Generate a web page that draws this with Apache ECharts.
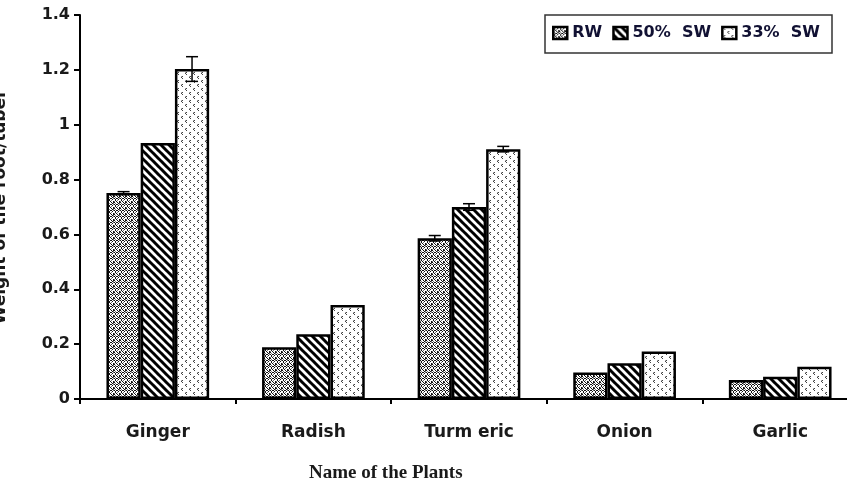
<!DOCTYPE html>
<html>
<head>
<meta charset="utf-8">
<script src="https://cdn.jsdelivr.net/npm/echarts@6/dist/echarts.min.js"></script>
<style>
html,body{margin:0;padding:0;background:#fff;}
#chart{width:847px;height:487px;}
</style>
</head>
<body>
<div id="chart"></div>
<script>
// ---- data ----
const categories = ['Ginger', 'Radish', 'Turm eric', 'Onion', 'Garlic'];
const seriesNames = ['RW', '50%  SW', '33%  SW'];
const rwValues   = [0.751, 0.189, 0.586, 0.097, 0.069];
const sw50Values = [0.933, 0.236, 0.700, 0.130, 0.081];
const sw33Values = [1.203, 0.343, 0.911, 0.173, 0.118];
const rwErrors   = [0.005, 0, 0.010, 0, 0];
const sw50Errors = [0, 0, 0.012, 0, 0];
const sw33Errors = [0.045, 0, 0.010, 0, 0];
const yTicks = [0, 0.2, 0.4, 0.6, 0.8, 1, 1.2, 1.4];

// ---- patterns ----
function tile(w, h, draw) {
  const c = document.createElement('canvas');
  c.width = w; c.height = h;
  const ctx = c.getContext('2d');
  ctx.fillStyle = '#fff';
  ctx.fillRect(0, 0, w, h);
  draw(ctx);
  return { image: c, repeat: 'repeat' };
}
const densePattern = tile(6, 6, function (ctx) {
  ctx.fillStyle = '#111';
  const px = [[0,0],[1,1],[3,0],[4,1],[2,3],[3,4],[5,3],[0,4],[1,2],[4,5],[2,0],[5,4]];
  px.forEach(p => ctx.fillRect(p[0], p[1], 1, 1));
  ctx.fillStyle = '#777';
  [[5,0],[0,3],[3,2],[1,5],[5,5]].forEach(p => ctx.fillRect(p[0], p[1], 1, 1));
});
const stripePattern = tile(8, 8, function (ctx) {
  ctx.strokeStyle = '#000';
  ctx.lineWidth = 3;
  [-8, 0, 8].forEach(function (o) {
    ctx.beginPath();
    ctx.moveTo(o - 1, -1);
    ctx.lineTo(o + 9, 9);
    ctx.stroke();
  });
});
const sparsePattern = tile(8, 8, function (ctx) {
  ctx.fillStyle = '#444';
  [[2,0],[1,1],[2,2]].forEach(p => ctx.fillRect(p[0], p[1], 1, 1));
  [[6,4],[5,5],[6,6]].forEach(p => ctx.fillRect(p[0], p[1], 1, 1));
  ctx.fillStyle = '#aaa';
  [[1,0],[5,4]].forEach(p => ctx.fillRect(p[0], p[1], 1, 1));
});

const BAR_FRAC = 0.22;
function barSeries(name, values, pattern) {
  return {
    name: name,
    type: 'bar',
    data: values,
    barWidth: (BAR_FRAC * 100) + '%',
    barGap: '0%',
    itemStyle: { color: pattern, borderColor: '#000', borderWidth: 2.5 },
    z: 2
  };
}

const errData = [];
[rwErrors, sw50Errors, sw33Errors].forEach(function (errs, s) {
  const vals = [rwValues, sw50Values, sw33Values][s];
  errs.forEach(function (e, i) {
    if (e > 0) errData.push([i, vals[i], e, s]);
  });
});

const chart = echarts.init(document.getElementById('chart'), null, { renderer: 'canvas' });
chart.setOption({
  animation: false,
  backgroundColor: '#fff',
  title: {
    text: 'Name of the Plants',
    left: 309,
    top: 464,
    padding: 0,
    textStyle: { fontFamily: 'Liberation Serif', fontWeight: 'bold', fontSize: 19, color: '#1a1a1a' }
  },
  graphic: [{
    type: 'rect',
    shape: { x: 545, y: 15, width: 287, height: 38 },
    style: { fill: '#fff', stroke: '#333', lineWidth: 1.5 },
    z: 0
  }],
  legend: {
    data: seriesNames,
    left: 552,
    top: 25,
    padding: 0,
    itemWidth: 14,
    itemHeight: 12,
    itemGap: 10,
    icon: 'rect',
    itemStyle: { borderColor: '#000', borderWidth: 2.5 },
    textStyle: { fontFamily: 'DejaVu Sans', fontWeight: 'bold', fontSize: 16, color: '#111133' },
    z: 5
  },
  grid: { left: 80, right: -11, top: 15, bottom: 88, containLabel: false, outerBoundsMode: 'none' },
  xAxis: {
    type: 'category',
    data: categories,
    axisLine: { lineStyle: { color: '#000', width: 2 } },
    axisTick: { show: true, length: 5, lineStyle: { color: '#000', width: 2 } },
    axisLabel: { margin: 25, fontFamily: 'DejaVu Sans', fontWeight: 'bold', fontSize: 17, color: '#1a1a1a' }
  },
  yAxis: {
    type: 'value',
    min: yTicks[0],
    max: yTicks[yTicks.length - 1],
    interval: 0.2,
    name: 'Weight of the root/tuber',
    nameLocation: 'middle',
    nameGap: 71,
    nameTextStyle: { fontFamily: 'DejaVu Sans', fontWeight: 'bold', fontSize: 17, color: '#1a1a1a' },
    splitLine: { show: false },
    axisLine: { show: true, lineStyle: { color: '#000', width: 2 } },
    axisTick: { show: true, length: 6, lineStyle: { color: '#000', width: 2 } },
    axisLabel: { margin: 10, fontFamily: 'DejaVu Sans', fontWeight: 'bold', fontSize: 16, color: '#1a1a1a' }
  },
  series: [
    barSeries(seriesNames[0], rwValues, densePattern),
    barSeries(seriesNames[1], sw50Values, stripePattern),
    barSeries(seriesNames[2], sw33Values, sparsePattern),
    {
      name: 'errors',
      type: 'custom',
      data: errData,
      z: 10,
      renderItem: function (params, api) {
        const cat = api.value(0), v = api.value(1), e = api.value(2), s = api.value(3);
        const band = api.size([1, 0])[0];
        const c = api.coord([cat, v]);
        const x = c[0] + (s - 1) * band * BAR_FRAC;
        const yt = api.coord([cat, v + e])[1];
        const yb = api.coord([cat, v - e])[1];
        const hw = 6;
        const st = { stroke: '#000', lineWidth: 1.5 };
        return {
          type: 'group',
          children: [
            { type: 'line', shape: { x1: x, y1: yt, x2: x, y2: yb }, style: st },
            { type: 'line', shape: { x1: x - hw, y1: yt, x2: x + hw, y2: yt }, style: st },
            { type: 'line', shape: { x1: x - hw, y1: yb, x2: x + hw, y2: yb }, style: st }
          ]
        };
      }
    }
  ]
});
</script>
</body>
</html>
